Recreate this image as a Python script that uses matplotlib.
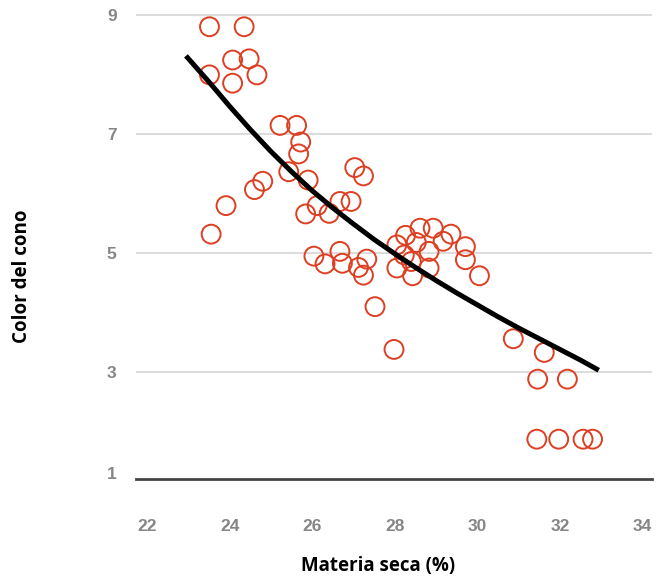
import numpy as np
import matplotlib
matplotlib.use("Agg")
import matplotlib.pyplot as plt

# Scatter data: Materia seca (%) vs Color del cono
materia_seca = [
    23.51, 24.35, 24.07, 24.47, 23.51, 24.07, 24.66,
    25.22, 25.62, 25.72, 25.67, 25.43, 25.90, 27.03, 27.24,
    24.80, 24.60, 23.91, 23.55,
    26.12, 25.84, 26.41, 26.67, 26.94,
    26.04, 26.31, 26.67, 26.73, 27.12, 27.32, 27.24,
    27.52, 28.05, 28.26, 28.05, 28.23, 28.43, 28.52, 28.61, 28.93,
    28.83, 28.83, 29.17, 29.36, 29.71, 29.71, 30.05, 28.40,
    27.98, 30.87, 31.62, 31.46, 32.18, 31.44, 31.97, 32.56, 32.79,
]
color_cono = [
    8.81, 8.81, 8.25, 8.27, 8.00, 7.86, 8.00,
    7.15, 7.15, 6.87, 6.67, 6.37, 6.23, 6.44, 6.30,
    6.21, 6.07, 5.80, 5.32,
    5.80, 5.66, 5.67, 5.87, 5.87,
    4.95, 4.82, 5.03, 4.83, 4.76, 4.90, 4.63,
    4.10, 5.14, 5.30, 4.75, 4.97, 4.62, 5.18, 5.42, 5.42,
    5.03, 4.75, 5.20, 5.32, 5.11, 4.89, 4.62, 4.86,
    3.38, 3.56, 3.33, 2.88, 2.88, 1.87, 1.87, 1.87, 1.87,
]

# Trend curve
curva_x = [22.94, 23.5, 24.0, 24.5, 25.0, 25.5, 26.0, 26.5, 27.0, 27.5,
           28.0, 28.5, 29.0, 29.5, 30.0, 30.5, 31.0, 31.5, 32.0, 32.5, 32.94]
curva_y = [8.32, 7.88, 7.47, 7.08, 6.71, 6.37, 6.05, 5.76, 5.49, 5.23,
           4.99, 4.76, 4.54, 4.33, 4.13, 3.93, 3.74, 3.56, 3.38, 3.20, 3.03]

x_ticks = [22, 24, 26, 28, 30, 32, 34]
y_ticks = [1.3, 3, 5, 7, 9]
y_tick_labels = ["1", "3", "5", "7", "9"]
grid_levels = [3, 5, 7, 9]

fig = plt.figure(figsize=(6.66, 5.77), dpi=100)
ax = fig.add_axes([136 / 666, 1 - 479 / 577, (652 - 136) / 666, 479 / 577])

ax.set_xlim(21.73, 34.23)
ax.set_ylim(1.2, 9.26)

for g in grid_levels:
    ax.axhline(g, color="#dcdcdc", lw=1.4, zorder=0)

ax.scatter(materia_seca, color_cono, s=185, facecolors="none",
           edgecolors="#dd3f22", linewidths=1.4, zorder=2)
ax.plot(curva_x, curva_y, color="black", lw=3.6, solid_capstyle="butt", zorder=3)

for s in ["top", "right", "left"]:
    ax.spines[s].set_visible(False)
ax.spines["bottom"].set_color("#444444")
ax.spines["bottom"].set_linewidth(2)

ax.set_xticks(x_ticks)
ax.set_yticks(y_ticks)
ax.set_yticklabels(y_tick_labels)
ax.tick_params(axis="both", length=0, labelcolor="#868686", labelsize=12.5)
ax.tick_params(axis="x", pad=29)
ax.tick_params(axis="y", pad=14)
for lab in ax.get_xticklabels() + ax.get_yticklabels():
    lab.set_fontfamily("Liberation Sans")
    lab.set_fontweight("bold")

fig.text(378 / 666, 1 - 566 / 577, "Materia seca (%)", ha="center", va="center",
         fontsize=13.5, fontweight="bold", fontfamily="Open Sans", color="black")
fig.text(22 / 666, 1 - 276 / 577, "Color del cono", ha="center", va="center",
         rotation=90, fontsize=13.5, fontweight="bold", fontfamily="Open Sans",
         color="black")

fig.savefig("out.png", dpi=100)
